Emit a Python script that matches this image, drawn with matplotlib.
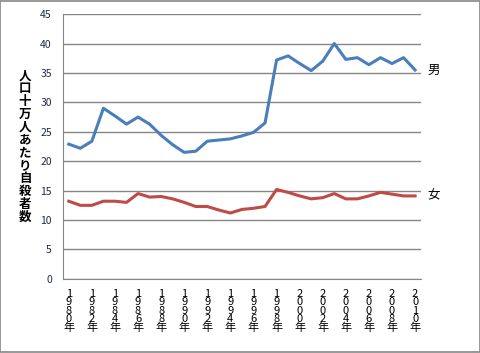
import matplotlib.pyplot as plt
from matplotlib.patches import Rectangle

plt.rcParams['font.family'] = ['Noto Sans CJK JP', 'DejaVu Sans']

years = list(range(1980, 2011))
male = [22.9, 22.2, 23.4, 29.0, 27.7, 26.3, 27.5, 26.3, 24.4, 22.8,
        21.5, 21.7, 23.4, 23.6, 23.8, 24.3, 24.9, 26.5, 37.2, 37.9,
        36.6, 35.4, 37.0, 40.0, 37.3, 37.6, 36.4, 37.6, 36.6, 37.6, 35.5]
female = [13.2, 12.5, 12.5, 13.2, 13.2, 13.0, 14.5, 13.9, 14.0, 13.6,
          13.0, 12.3, 12.3, 11.7, 11.2, 11.8, 12.0, 12.3, 15.2, 14.7,
          14.1, 13.6, 13.8, 14.5, 13.6, 13.6, 14.1, 14.7, 14.4, 14.1, 14.1]
series_names = ['男', '女']
ylabel = '人口十万人あたり自殺者数'

fig = plt.figure(figsize=(4.81, 3.53), dpi=100)
ax = fig.add_axes([0.131, 0.21, 0.744, 0.75])

x = list(range(len(years)))
ax.plot(x, male, color='#4a7ebb', lw=2.2)
ax.plot(x, female, color='#be4b48', lw=2.2)

ax.set_xlim(-0.5, len(years) - 0.5)
ax.set_ylim(0, 45)
ax.set_yticks(range(0, 46, 5))
ax.grid(axis='y', color='#868686', lw=1)
ax.set_axisbelow(True)
for s in ['top', 'right']:
    ax.spines[s].set_visible(False)
for s in ['left', 'bottom']:
    ax.spines[s].set_color('#868686')
ax.tick_params(axis='y', length=0, pad=8, labelsize=7.5, labelcolor='#1f2a44')

# year labels written top to bottom
ticks = x[::2]
ax.set_xticks(ticks)
ax.set_xticklabels(['\n'.join(str(y) + '年') for y in years[::2]],
                   fontsize=8, linespacing=0.82, va='top')
ax.tick_params(axis='x', length=0, pad=7)

ax.text(len(years) - 0.5 + 0.6, male[-1], series_names[0], fontsize=9,
        va='center', ha='left', clip_on=False)
ax.text(len(years) - 0.5 + 0.6, female[-1], series_names[1], fontsize=9,
        va='center', ha='left', clip_on=False)

fig.text(0.052, 0.585, '\n'.join(ylabel), fontsize=9, fontweight='bold',
         ha='center', va='center', linespacing=0.98)

fig.patches.append(Rectangle((0.001, 0.002), 0.996, 0.995, transform=fig.transFigure,
                             fill=False, edgecolor='#868686', lw=1.2))

fig.savefig('out.png', dpi=100)
